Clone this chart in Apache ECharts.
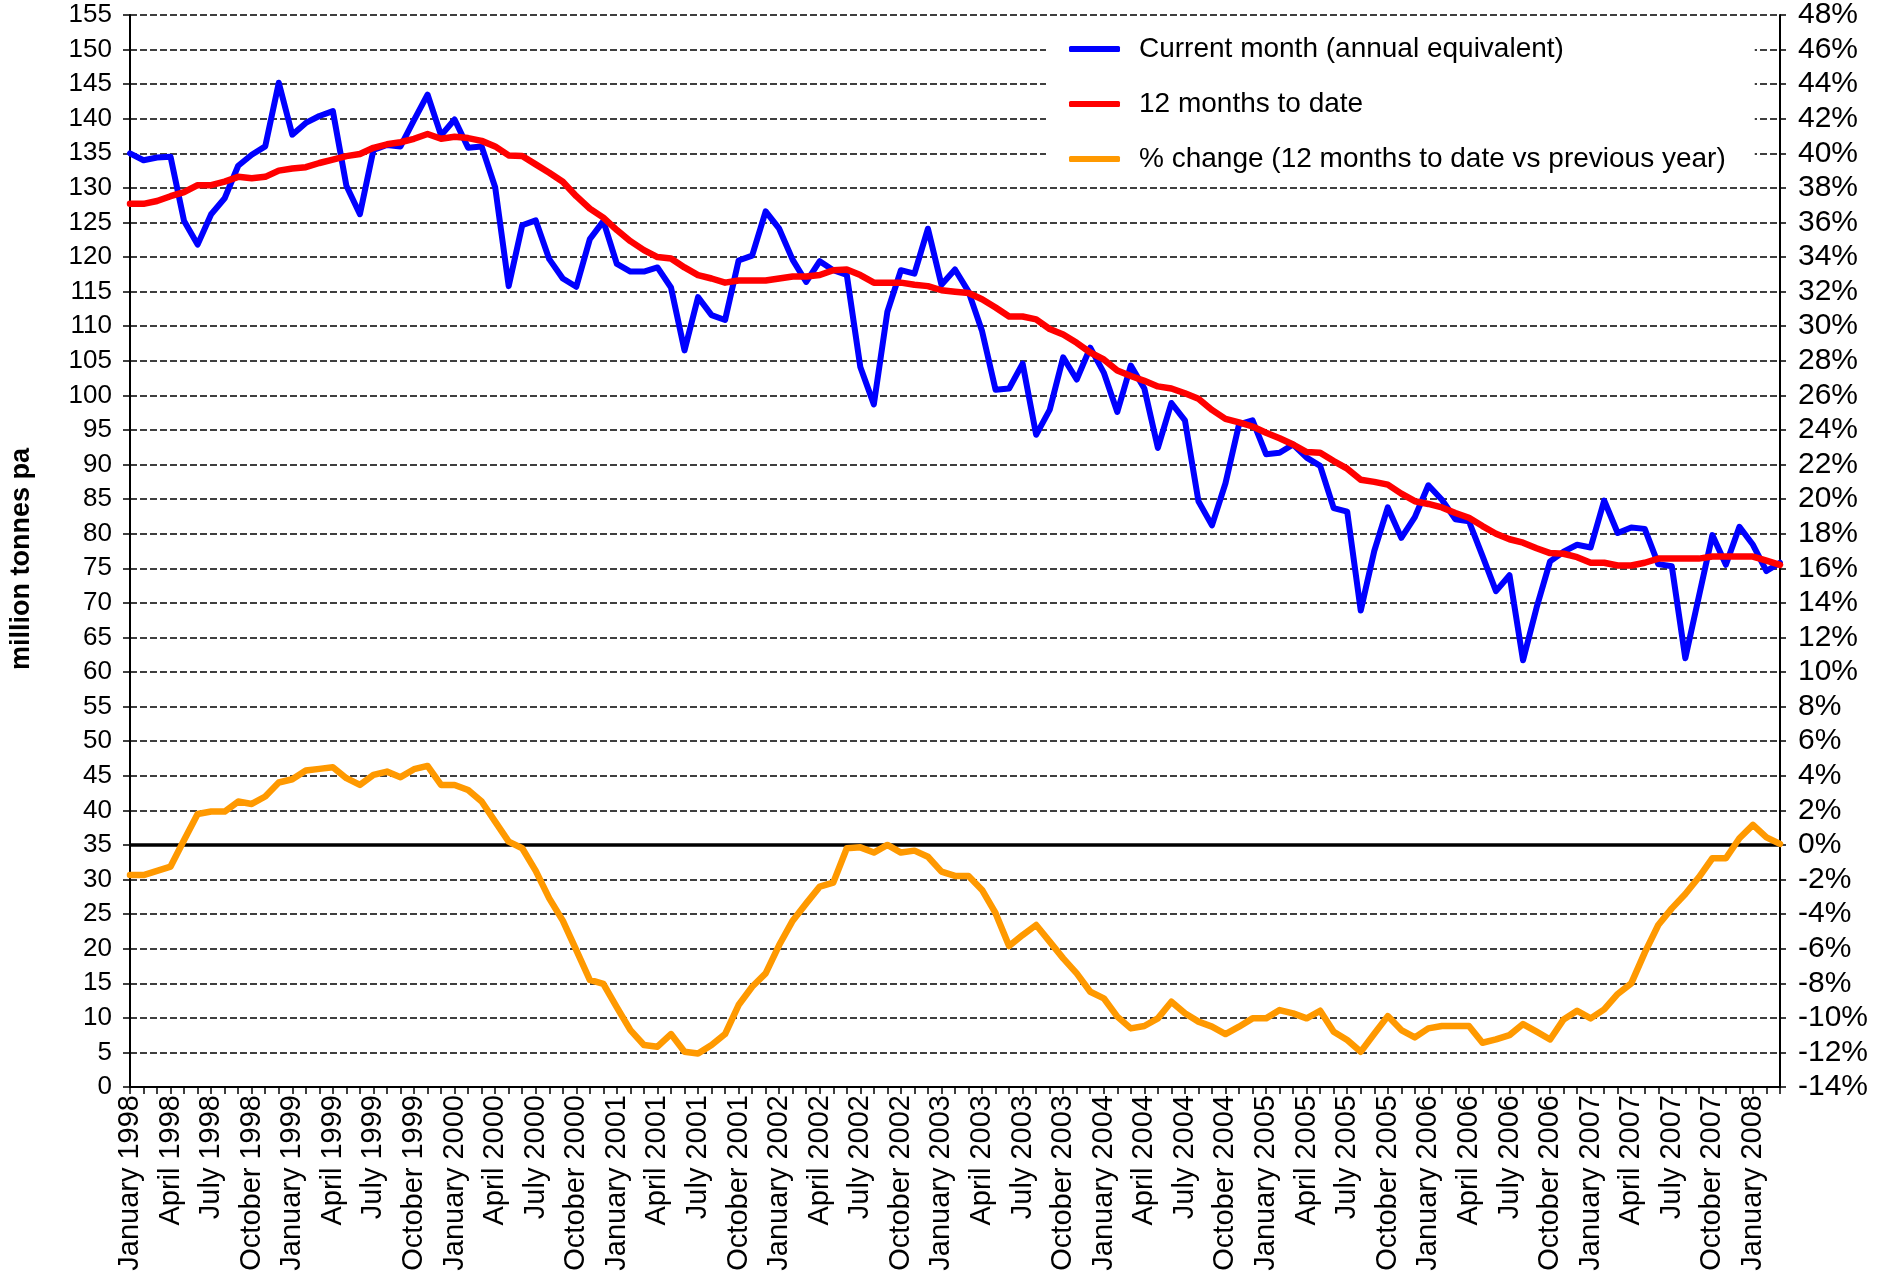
<!DOCTYPE html>
<html>
<head>
<meta charset="utf-8">
<script src="https://cdn.jsdelivr.net/npm/echarts@6/dist/echarts.min.js"></script>
<style>
  html, body { margin: 0; padding: 0; background: #ffffff; }
  #chart { width: 1877px; height: 1285px; }
</style>
</head>
<body>
<div id="chart"></div>
<script>
// Monthly series, January 1998 to March 2008
const monthNames = ['January', 'February', 'March', 'April', 'May', 'June',
  'July', 'August', 'September', 'October', 'November', 'December'];
const firstYear = 1998;
const monthCount = 123;

const categories = [];
for (let i = 0; i < monthCount; i++) {
  categories.push(monthNames[i % 12] + ' ' + (firstYear + Math.floor(i / 12)));
}

// Current month, annual equivalent (million tonnes pa)
const currentMonth = [
  135.0, 134.0, 134.4, 134.5, 125.2, 121.8, 126.2, 128.5, 133.2, 134.8, 136.0, 145.2,
  137.7, 139.4, 140.4, 141.1, 130.3, 126.2, 135.5, 136.2, 136.0, 139.8, 143.5, 137.6,
  139.9, 135.8, 136.0, 130.1, 115.8, 124.6, 125.3, 119.7, 116.9, 115.7, 122.6, 125.2,
  119.0, 117.9, 117.9, 118.5, 115.6, 106.5, 114.2, 111.6, 110.9, 119.5, 120.2, 126.6,
  124.1, 119.6, 116.4, 119.4, 118.1, 117.4, 104.1, 98.7, 112.1, 118.1, 117.6, 124.1,
  116.0, 118.2, 115.0, 109.3, 100.8, 101.0, 104.6, 94.3, 97.9, 105.5, 102.3, 106.9,
  103.3, 97.6, 104.3, 101.0, 92.4, 98.9, 96.4, 84.7, 81.2, 87.3, 95.8, 96.4,
  91.5, 91.7, 92.9, 91.0, 89.8, 83.7, 83.2, 68.9, 77.5, 83.8, 79.4, 82.4,
  87.0, 84.9, 82.1, 81.8, 76.8, 71.7, 74.0, 61.7, 69.3, 76.0, 77.4, 78.4,
  78.0, 84.8, 80.1, 80.9, 80.7, 75.6, 75.3, 62.0, 70.9, 79.8, 75.5, 81.0,
  78.4, 74.6, 75.8
];

// 12 months to date (million tonnes pa)
const twelveMonths = [
  127.7, 127.7, 128.1, 128.8, 129.4, 130.4, 130.4, 130.9, 131.6, 131.4, 131.6, 132.5,
  132.8, 133.0, 133.6, 134.1, 134.6, 134.9, 135.8, 136.3, 136.6, 137.1, 137.8, 137.1,
  137.4, 137.2, 136.8, 136.0, 134.7, 134.6, 133.4, 132.2, 130.9, 128.8, 127.0, 125.7,
  123.9, 122.3, 121.0, 120.0, 119.8, 118.5, 117.4, 116.9, 116.3, 116.6, 116.6, 116.6,
  116.9, 117.2, 117.2, 117.4, 118.1, 118.2, 117.4, 116.3, 116.3, 116.3, 116.0, 115.8,
  115.2, 115.0, 114.8, 113.9, 112.7, 111.4, 111.4, 111.0, 109.6, 108.8, 107.6, 106.2,
  105.2, 103.6, 102.8, 102.1, 101.3, 101.0, 100.3, 99.5, 97.9, 96.6, 96.1, 95.5,
  94.6, 93.8, 92.9, 91.8, 91.7, 90.5, 89.4, 87.8, 87.5, 87.1, 85.8, 84.7,
  84.3, 83.8, 83.0, 82.3, 81.1, 80.0, 79.2, 78.7, 77.9, 77.2, 77.1, 76.6,
  75.8, 75.8, 75.4, 75.4, 75.8, 76.4, 76.4, 76.4, 76.4, 76.7, 76.7, 76.7,
  76.7, 76.1, 75.5
];

// % change, 12 months to date vs previous year
const pctChange = [
  -1.74, -1.74, -1.50, -1.25, 0.29, 1.79, 1.93, 1.93, 2.51, 2.37, 2.80, 3.61,
  3.80, 4.30, 4.40, 4.49, 3.86, 3.47, 4.05, 4.24, 3.92, 4.38, 4.57, 3.47,
  3.47, 3.18, 2.51, 1.35, 0.19, -0.19, -1.50, -3.09, -4.38, -6.08, -7.81, -8.04,
  -9.39, -10.71, -11.57, -11.67, -10.94, -11.96, -12.06, -11.57, -10.94, -9.26, -8.20, -7.43,
  -5.79, -4.38, -3.38, -2.41, -2.18, -0.19, -0.14, -0.44, 0.00, -0.44, -0.33, -0.68,
  -1.54, -1.79, -1.79, -2.60, -3.95, -5.85, -5.21, -4.63, -5.59, -6.56, -7.43, -8.49,
  -8.87, -9.93, -10.61, -10.47, -10.03, -9.07, -9.74, -10.22, -10.51, -10.94, -10.51, -10.03,
  -10.03, -9.55, -9.74, -10.03, -9.59, -10.80, -11.28, -11.96, -10.92, -9.90, -10.71, -11.13,
  -10.61, -10.47, -10.47, -10.47, -11.44, -11.25, -11.00, -10.36, -10.80, -11.25, -10.09, -9.59,
  -10.03, -9.51, -8.62, -8.01, -6.23, -4.63, -3.67, -2.84, -1.87, -0.77, -0.77, 0.39,
  1.16, 0.44, 0.06
];

const seriesNames = [
  'Current month (annual equivalent)',
  '12 months to date',
  '% change (12 months to date vs previous year)'
];

const FONT = '"Liberation Sans", Arial, Helvetica, sans-serif';

const chart = echarts.init(document.getElementById('chart'), null, { renderer: 'canvas' });

chart.setOption({
  animation: false,
  backgroundColor: '#ffffff',
  grid: { left: 124, right: 97, top: 14, bottom: 198, containLabel: false },
  legend: {
    orient: 'vertical',
    left: 1046,
    top: 24,
    backgroundColor: '#ffffff',
    padding: [10, 29, 8, 23],
    icon: 'roundRect',
    itemWidth: 51,
    itemHeight: 6,
    itemGap: 25,
    data: seriesNames,
    textStyle: {
      fontFamily: FONT, fontSize: 28, color: '#000000',
      lineHeight: 30, padding: [0, 0, 0, 14]
    }
  },
  xAxis: {
    type: 'category',
    data: categories,
    boundaryGap: false,
    axisLine: { show: true, onZero: false, lineStyle: { color: '#000000', width: 2 } },
    axisTick: { show: true, interval: 0, length: 7, lineStyle: { color: '#000000', width: 1.5 } },
    axisLabel: {
      interval: 2, rotate: 90, margin: 8,
      fontFamily: FONT, fontSize: 29, color: '#000000'
    },
    splitLine: { show: false }
  },
  yAxis: [
    {
      type: 'value',
      min: 0, max: 155, interval: 5,
      name: 'million tonnes pa',
      nameLocation: 'middle',
      nameGap: 95,
      nameRotate: 90,
      nameTextStyle: {
        fontFamily: FONT, fontSize: 27, fontWeight: 'bold', color: '#000000',
        padding: [0, 16, 0, 0]
      },
      axisLine: { show: true, lineStyle: { color: '#000000', width: 2 } },
      axisTick: { show: true, length: 7, lineStyle: { color: '#000000', width: 1.5 } },
      axisLabel: { margin: 18, fontFamily: FONT, fontSize: 26, color: '#000000' },
      splitLine: { show: true, lineStyle: { color: '#000000', width: 1.5, type: [7, 3] } }
    },
    {
      type: 'value',
      min: -14, max: 48, interval: 2,
      position: 'right',
      axisLine: { show: true, lineStyle: { color: '#000000', width: 2 } },
      axisTick: { show: true, length: 6, lineStyle: { color: '#000000', width: 1.5 } },
      axisLabel: { margin: 18, fontFamily: FONT, fontSize: 30, color: '#000000', formatter: '{value}%' },
      splitLine: { show: false }
    }
  ],
  series: [
    {
      name: seriesNames[0],
      type: 'line',
      yAxisIndex: 0,
      data: currentMonth,
      showSymbol: false,
      symbol: 'none',
      color: '#0000ff',
      lineStyle: { color: '#0000ff', width: 6, cap: 'round', join: 'round' }
    },
    {
      name: seriesNames[1],
      type: 'line',
      yAxisIndex: 0,
      data: twelveMonths,
      showSymbol: false,
      symbol: 'none',
      color: '#ff0000',
      lineStyle: { color: '#ff0000', width: 6.5, cap: 'round', join: 'round' }
    },
    {
      name: seriesNames[2],
      type: 'line',
      yAxisIndex: 1,
      data: pctChange,
      showSymbol: false,
      symbol: 'none',
      color: '#ff9900',
      lineStyle: { color: '#ff9900', width: 6.5, cap: 'round', join: 'round' },
      markLine: {
        z: 1,
        silent: true,
        symbol: 'none',
        label: { show: false },
        lineStyle: { color: '#000000', width: 3.5, type: 'solid' },
        data: [{ yAxis: 0 }]
      }
    }
  ]
});
</script>
</body>
</html>
